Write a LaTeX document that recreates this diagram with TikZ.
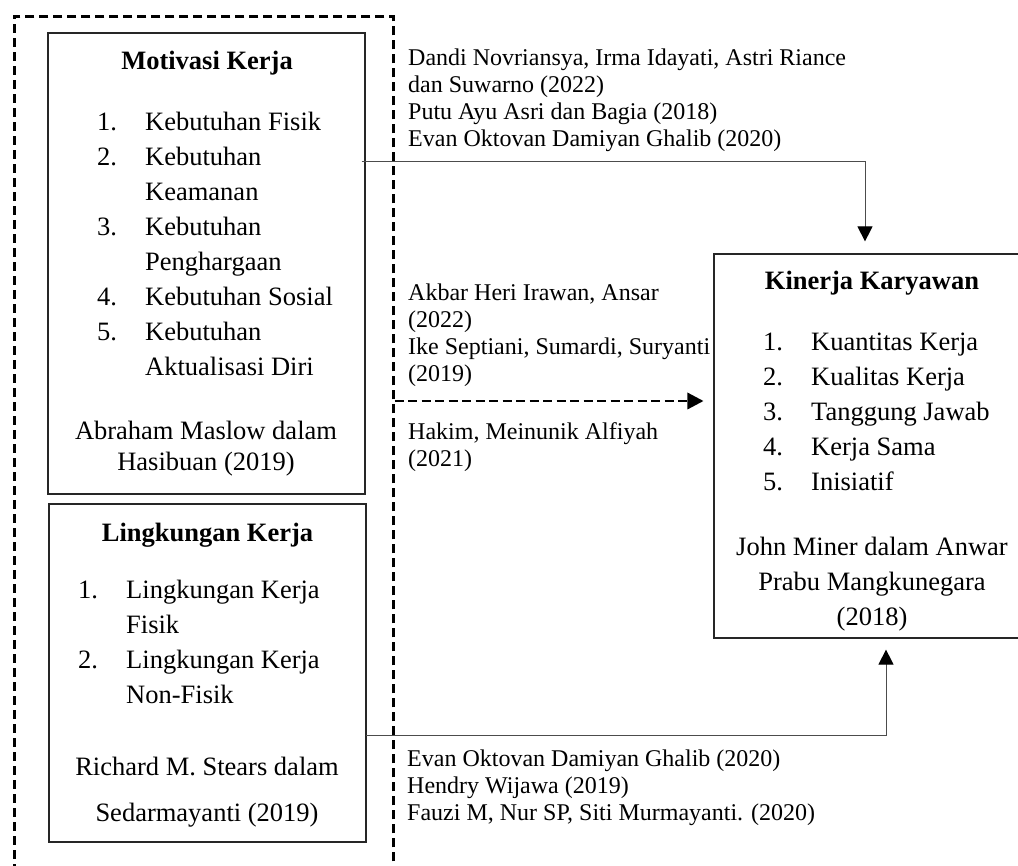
\documentclass[tikz,border=0pt]{standalone}
\usepackage{fontspec}
\setmainfont{Liberation Serif}
\usetikzlibrary{arrows.meta}
\begin{document}
\begin{tikzpicture}[x=1pt,y=-1pt,
  boxx/.style={draw=black!85, line width=1.2pt, inner sep=0pt},
  outerbox/.style={draw=black, line width=2.6pt, dash pattern=on 9pt off 5pt, inner sep=0pt},
  bt/.style={font=\fontsize{26.5}{30}\selectfont, inner sep=0pt},
  hd/.style={font=\fontsize{26.5}{30}\selectfont\bfseries, inner sep=0pt, anchor=base},
  st/.style={font=\fontsize{24}{27}\selectfont, inner sep=0pt, anchor=base west},
  conn/.style={draw=black!70, line width=1pt, -{Triangle[width=15pt,length=15pt,color=black]}},
  dconn/.style={draw=black, line width=2.6pt, dash pattern=on 9pt off 4.5pt, -{Triangle[width=17pt,length=16pt,color=black,line width=0pt]}}
]
\clip (0,0) rectangle (1018,866);
% boxes
\node[boxx, minimum width=317pt, minimum height=461pt] (mot) at (206.5,263.5) {};
\node[boxx, minimum width=317pt, minimum height=338pt] (lin) at (207.5,673) {};
\node[boxx, minimum width=316pt, minimum height=384pt] (kin) at (872,446) {};
\node[outerbox, minimum width=379pt, minimum height=900pt, anchor=north west] (out) at (13,15) {};

% Motivasi Kerja
\node[hd] (mh) at (207,70) {Motivasi Kerja};
\node[bt, anchor=base west] (m1n) at (97,131) {1.};
\node[bt, anchor=base west] (m1) at (145,131) {Kebutuhan Fisik};
\node[bt, anchor=base west] (m2n) at (97,166) {2.};
\node[bt, anchor=base west] (m2) at (145,166) {Kebutuhan};
\node[bt, anchor=base west] (m2b) at (145,201) {Keamanan};
\node[bt, anchor=base west] (m3n) at (97,236) {3.};
\node[bt, anchor=base west] (m3) at (145,236) {Kebutuhan};
\node[bt, anchor=base west] (m3b) at (145,271) {Penghargaan};
\node[bt, anchor=base west] (m4n) at (97,306) {4.};
\node[bt, anchor=base west] (m4) at (145,306) {Kebutuhan Sosial};
\node[bt, anchor=base west] (m5n) at (97,341) {5.};
\node[bt, anchor=base west] (m5) at (145,341) {Kebutuhan};
\node[bt, anchor=base west] (m5b) at (145,376) {Aktualisasi Diri};
\node[bt, anchor=base] (ms1) at (206,440) {Abraham Maslow dalam};
\node[bt, anchor=base] (ms2) at (206,471) {Hasibuan (2019)};

% Lingkungan Kerja
\node[hd] (lh) at (207.5,541) {Lingkungan Kerja};
\node[bt, anchor=base west] (l1n) at (78,598) {1.};
\node[bt, anchor=base west] (l1) at (126,598) {Lingkungan Kerja};
\node[bt, anchor=base west] (l1b) at (126,633) {Fisik};
\node[bt, anchor=base west] (l2n) at (78,668) {2.};
\node[bt, anchor=base west] (l2) at (126,668) {Lingkungan Kerja};
\node[bt, anchor=base west] (l2b) at (126,703) {Non-Fisik};
\node[bt, anchor=base] (ls1) at (207,775) {Richard M. Stears dalam};
\node[bt, anchor=base] (ls2) at (207,821) {Sedarmayanti (2019)};

% Kinerja Karyawan
\node[hd] (kh) at (872,290) {Kinerja Karyawan};
\node[bt, anchor=base west] (k1n) at (763,351) {1.};
\node[bt, anchor=base west] (k1) at (811,351) {Kuantitas Kerja};
\node[bt, anchor=base west] (k2n) at (763,386) {2.};
\node[bt, anchor=base west] (k2) at (811,386) {Kualitas Kerja};
\node[bt, anchor=base west] (k3n) at (763,421) {3.};
\node[bt, anchor=base west] (k3) at (811,421) {Tanggung Jawab};
\node[bt, anchor=base west] (k4n) at (763,456) {4.};
\node[bt, anchor=base west] (k4) at (811,456) {Kerja Sama};
\node[bt, anchor=base west] (k5n) at (763,491) {5.};
\node[bt, anchor=base west] (k5) at (811,491) {Inisiatif};
\node[bt, anchor=base] (ks1) at (872,555) {John Miner dalam Anwar};
\node[bt, anchor=base] (ks2) at (872,590) {Prabu Mangkunegara};
\node[bt, anchor=base] (ks3) at (872,625) {(2018)};

% side texts
\node[st] (a1) at (408,65.5) {Dandi Novriansya, Irma Idayati, Astri Riance};
\node[st] (a2) at (408,92.5) {dan Suwarno (2022)};
\node[st] (a3) at (408,119.5) {Putu Ayu Asri dan Bagia (2018)};
\node[st] (a4) at (408,146.5) {Evan Oktovan Damiyan Ghalib (2020)};
\node[st] (b1) at (408,300.5) {Akbar Heri Irawan, Ansar};
\node[st] (b2) at (408,327.5) {(2022)};
\node[st] (b3) at (408,354.5) {Ike Septiani, Sumardi, Suryanti};
\node[st] (b4) at (408,381.5) {(2019)};
\node[st] (b5) at (408,439.5) {Hakim, Meinunik Alfiyah};
\node[st] (b6) at (408,466.5) {(2021)};
\node[st] (c1) at (407,766.5) {Evan Oktovan Damiyan Ghalib (2020)};
\node[st] (c2) at (407,793.5) {Hendry Wijawa (2019)};
\node[st] (c3) at (407,820.5) {Fauzi M, Nur SP, Siti Murmayanti. (2020)};

% connectors
\coordinate (tl) at (0,162);
\coordinate (tx) at (865,0);
\coordinate (ktop) at ([yshift=12pt]kin.north);
\draw[conn] ([xshift=-4pt]mot.east |- tl) -| (ktop -| tx);

\coordinate (bl) at (0,735);
\coordinate (bxc) at (886,0);
\coordinate (kbot) at ([yshift=-11pt]kin.south);
\draw[conn] ([xshift=-1pt]lin.east |- bl) -| (kbot -| bxc);

\coordinate (dl) at (0,401);
\coordinate (kw) at ([xshift=-10pt]kin.west);
\draw[dconn] (out.east |- dl) -- (kw |- dl);
\end{tikzpicture}
\end{document}
